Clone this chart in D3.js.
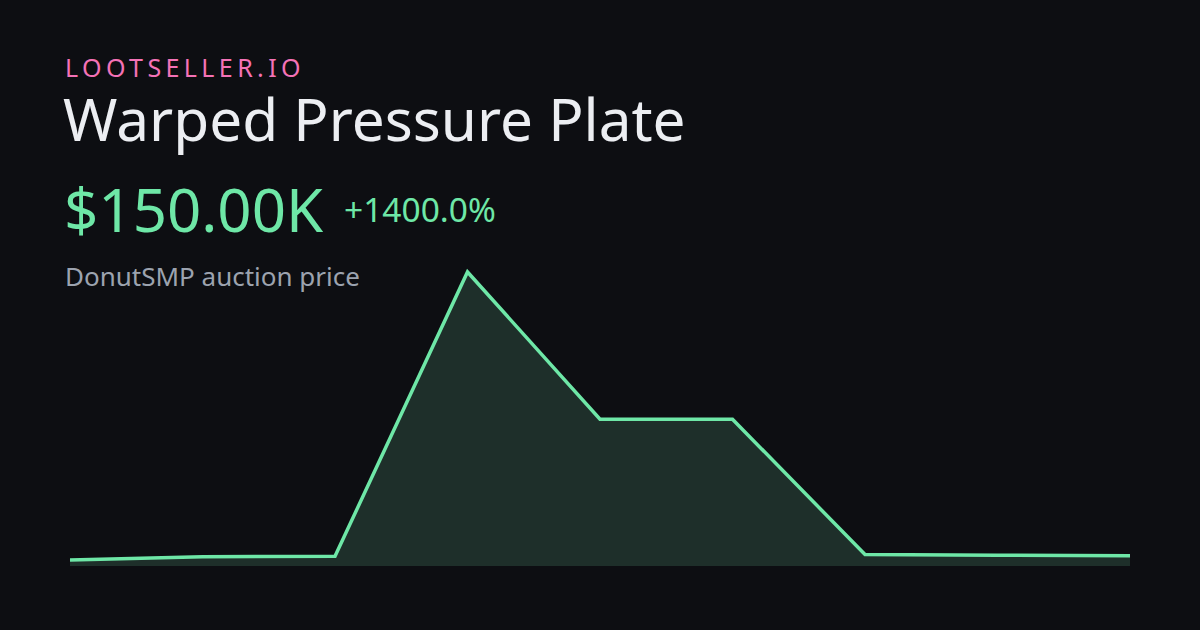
<!DOCTYPE html>
<html><head><meta charset="utf-8">
<script src="https://cdn.jsdelivr.net/npm/d3@7"></script>
<style>html,body{margin:0;padding:0;background:#0d0e12;}svg{display:block;}</style>
</head><body>
<script>
const dates = ["p1","p2","p3","p4","p5","p6","p7","p8","p9"];
const prices = [10000, 120000, 130000, 9400000, 4600000, 4600000, 190000, 165000, 150000];
const brand = "LOOTSELLER.IO";
const title = "Warped Pressure Plate";
const priceLabel = "$150.00K";
const changeLabel = "+1400.0%";
const subtitle = "DonutSMP auction price";

const W = 1200, H = 630;
const svg = d3.select("body").append("svg").attr("width", W).attr("height", H);
svg.append("rect").attr("width", W).attr("height", H).attr("fill", "#0d0e12");

const font = "'Noto Sans', 'Open Sans', sans-serif";
svg.append("text").attr("x", 65).attr("y", 77).attr("font-family", font).attr("font-size", 25)
  .attr("letter-spacing", 4.4).attr("fill", "#f472b6").text(brand);
svg.append("text").attr("x", 63).attr("y", 141).attr("font-family", font).attr("font-size", 58.5)
  .attr("fill", "#eceef2").text(title);
svg.append("text").attr("x", 64).attr("y", 232).attr("font-family", font).attr("font-size", 60)
  .attr("fill", "#6ee7a7").text(priceLabel);
svg.append("text").attr("x", 344).attr("y", 222).attr("font-family", font).attr("font-size", 33.5)
  .attr("fill", "#6ee7a7").text(changeLabel);
svg.append("text").attr("x", 65).attr("y", 286).attr("font-family", font).attr("font-size", 26)
  .attr("fill", "#9ca3af").text(subtitle);

const x = d3.scalePoint().domain(dates).range([70, 1130]);
const y = d3.scaleLinear().domain([d3.min(prices), d3.max(prices)]).range([560, 272]);
const baseY = 566;

const area = d3.area().x((d, i) => x(dates[i])).y0(baseY).y1(d => y(d));
const line = d3.line().x((d, i) => x(dates[i])).y(d => y(d));

svg.append("path").datum(prices).attr("d", area).attr("fill", "#1e2f2a");
svg.append("path").datum(prices).attr("d", line).attr("fill", "none")
  .attr("stroke", "#6ee7a7").attr("stroke-width", 3.5).attr("stroke-linejoin", "miter");
</script>
</body></html>
